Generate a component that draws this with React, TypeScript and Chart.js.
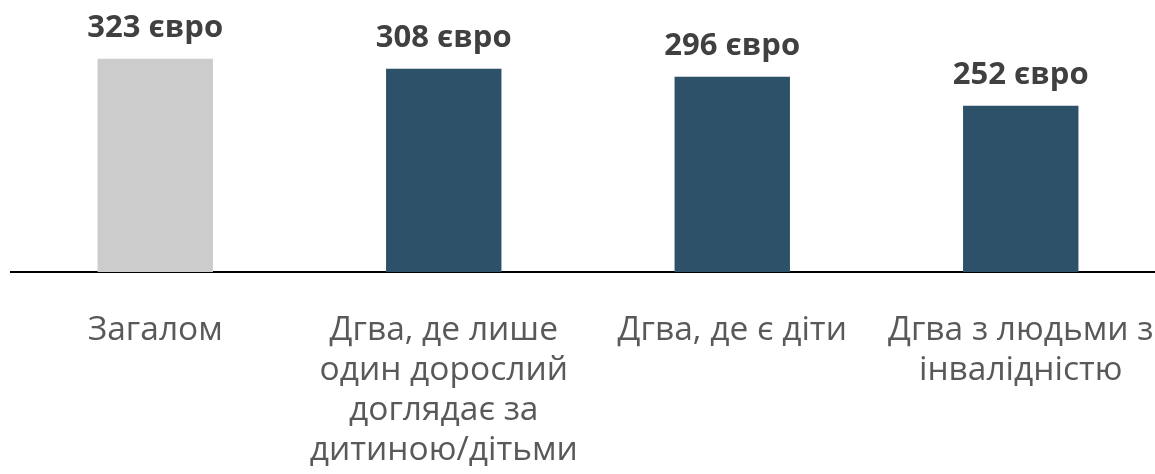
import React, { useEffect, useRef } from "react";
import { Chart, registerables } from "chart.js";

Chart.register(...registerables);

const categories: string[][] = [
  ["Загалом"],
  ["Дгва, де лише", "один дорослий", "доглядає за", "дитиною/дітьми"],
  ["Дгва, де є діти"],
  ["Дгва з людьми з", "інвалідністю"],
];
const values: number[] = [323, 308, 296, 252];
const barColors: string[] = ["#CCCCCC", "#2D5169", "#2D5169", "#2D5169"];
const unit = "євро";

export default function App() {
  const ref = useRef<HTMLCanvasElement | null>(null);
  useEffect(() => {
    if (!ref.current) return;
    const valueLabels = {
      id: "valueLabels",
      afterDatasetsDraw(chart: any) {
        const ctx = chart.ctx;
        const meta = chart.getDatasetMeta(0);
        ctx.save();
        ctx.font = "bold 31px 'Open Sans'";
        ctx.fillStyle = "#404040";
        ctx.textAlign = "center";
        ctx.textBaseline = "alphabetic";
        meta.data.forEach((bar: any, i: number) => {
          ctx.fillText(`${values[i]} ${unit}`, bar.x, bar.y - 22);
        });
        ctx.restore();
      },
    };
    const chart = new Chart(ref.current, {
      type: "bar",
      data: {
        labels: categories,
        datasets: [
          {
            data: values,
            backgroundColor: barColors,
            categoryPercentage: 0.4,
            barPercentage: 1,
          },
        ],
      },
      options: {
        animation: false,
        responsive: true,
        maintainAspectRatio: false,
        layout: { padding: { left: 11, right: 5, top: 8, bottom: 0 } },
        plugins: { legend: { display: false }, tooltip: { enabled: false } },
        scales: {
          x: {
            grid: { display: false, drawTicks: false },
            border: { display: true, color: "#000000", width: 2 },
            afterFit: (scale: any) => {
              scale.height = 202;
              scale.paddingLeft = 0;
              scale.paddingRight = 0;
            },
            ticks: {
              color: "#595959",
              font: { family: "'Open Sans'", size: 33.5, lineHeight: 40 / 33.5 },
              padding: 38,
              maxRotation: 0,
              autoSkip: false,
            },
          },
          y: {
            display: false,
            min: 0,
            max: 400,
          },
        },
      },
      plugins: [valueLabels],
    });
    return () => chart.destroy();
  }, []);
  return (
    <div style={{ position: "fixed", left: 0, top: 0, width: 1155, height: 474, overflow: "hidden", background: "#fff" }}>
      <div style={{ position: "absolute", left: 0, top: 0, width: 1170, height: 474 }}>
        <canvas ref={ref} />
      </div>
    </div>
  );
}
